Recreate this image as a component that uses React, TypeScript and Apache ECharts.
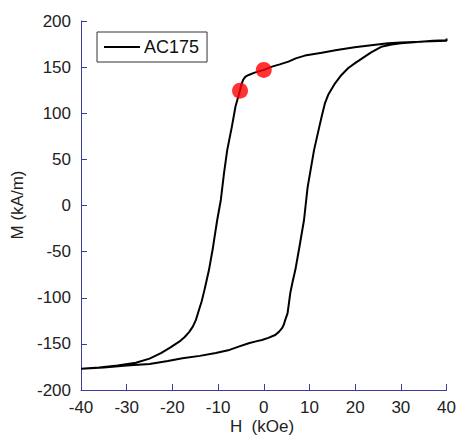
import React, { useEffect, useRef } from "react";
import * as echarts from "echarts";

// Descending-field branch, H from +40 to -40 kOe
const upperH = [40, 37, 34.4, 30, 27.2, 23.5, 19.9, 16, 12.7, 9, 7, 5.4, 3.5, 1.8, 0, -2, -3.3, -4.0, -4.5, -4.9, -5.2, -5.7, -6.2, -7.0, -7.6, -8.0, -8.7, -9.4, -10.2, -10.8, -11.2, -11.6, -12.0, -12.5, -13.0, -13.6, -14.1, -14.85, -15.5, -16.3, -17.3, -18.5, -20.5, -22.5, -25, -28, -32, -36, -40];
const upperM = [179, 178.5, 177.6, 176.6, 175.8, 173.8, 171.5, 168.5, 165.5, 162.5, 159.5, 156, 153, 150.5, 147, 144, 141.5, 139.6, 136.5, 131, 125, 116, 107, 85, 70, 60, 35, 6, -16, -35, -48, -59, -70, -81, -92, -104, -112, -124, -131, -137, -142.5, -147.6, -154, -160, -166, -170.5, -173.5, -175.5, -177];

// Ascending-field branch, H from -40 back to +40 kOe
const lowerH = [-40, -35, -30, -25, -21, -17.8, -14, -10.5, -7.8, -5.5, -3.3, -1.5, -0.4, 1, 2.5, 3.3, 4.0, 4.4, 4.7, 5.2, 5.5, 5.8, 6.3, 6.9, 7.8, 8.8, 9.6, 10.3, 11.0, 12, 12.7, 13.4, 14.1, 15.6, 17.0, 18.5, 19.9, 22.1, 23.5, 25.7, 28, 30, 35, 40, 40];
const lowerM = [-177, -175.5, -173.5, -171.8, -168.5, -165.6, -163, -160, -157, -153, -149.4, -147, -145.8, -143.5, -140.4, -137, -133, -129, -124, -117, -106, -95, -83, -70, -45, -16, 20, 40, 60, 82, 97, 111, 120, 132.5, 141.5, 149, 154, 161.3, 166, 172, 174.5, 176, 177.8, 178.5, 181];

// Highlighted points on the descending branch
const markH = [0, -5.2];
const markM = [147, 124.5];

const xTicks = [-40, -30, -20, -10, 0, 10, 20, 30, 40];
const yTicks = [-200, -150, -100, -50, 0, 50, 100, 150, 200];

const axisColor = "#3c3c9a";
const textColor = "#222";
const font = "Liberation Sans, Arial, sans-serif";

export default function App() {
  const ref = useRef<HTMLDivElement>(null);

  useEffect(() => {
    if (!ref.current) return;
    const chart = echarts.init(ref.current, undefined, { renderer: "svg" });

    const loop: number[][] = [];
    upperH.forEach((h, i) => loop.push([h, upperM[i]]));
    lowerH.forEach((h, i) => loop.push([h, lowerM[i]]));
    const marks = markH.map((h, i) => [h, markM[i]]);

    const axisCommon = {
      axisLine: { show: true, onZero: false, lineStyle: { color: axisColor, width: 1 } },
      axisTick: { show: true, inside: true, length: 6, lineStyle: { color: axisColor } },
      splitLine: { show: false },
      axisLabel: { color: textColor, fontSize: 17, fontFamily: font },
    };

    chart.setOption({
      animation: false,
      backgroundColor: "#fff",
      grid: { left: 81, top: 21, width: 368, height: 369, containLabel: false },
      xAxis: {
        type: "value",
        min: xTicks[0],
        max: xTicks[xTicks.length - 1],
        interval: 10,
        ...axisCommon,
        axisLabel: { ...axisCommon.axisLabel, margin: 9 },
      },
      yAxis: {
        type: "value",
        min: yTicks[0],
        max: yTicks[yTicks.length - 1],
        interval: 50,
        ...axisCommon,
        axisLabel: { ...axisCommon.axisLabel, margin: 10 },
      },
      legend: {
        show: true,
        data: [{ name: "AC175", icon: "rect" }],
        left: 97,
        top: 32,
        orient: "vertical",
        padding: [6, 8, 6, 7],
        itemWidth: 36,
        itemHeight: 2,
        itemGap: 0,
        itemStyle: { color: "#000" },
        borderColor: "#333",
        borderWidth: 1,
        backgroundColor: "#fff",
        textStyle: { color: "#111", fontSize: 18, fontFamily: font, padding: [0, 0, 0, -1] },
      },
      graphic: [
        {
          type: "text",
          x: 262,
          y: 426,
          style: {
            text: "H  (kOe)",
            fill: textColor,
            font: `17px ${font}`,
            align: "center",
            verticalAlign: "middle",
          },
        },
        {
          type: "text",
          x: 17,
          y: 205,
          rotation: Math.PI / 2,
          style: {
            text: "M (kA/m)",
            fill: textColor,
            font: `17px ${font}`,
            align: "center",
            verticalAlign: "middle",
          },
        },
      ],
      series: [
        {
          name: "AC175",
          type: "line",
          data: loop,
          symbol: "none",
          smooth: false,
          lineStyle: { color: "#000", width: 2 },
          itemStyle: { color: "#000" },
        },
        {
          name: "marks",
          type: "scatter",
          data: marks,
          symbol: "circle",
          symbolSize: 16,
          itemStyle: { color: "#ff0000" },
          z: 5,
        },
      ],
    });

    return () => chart.dispose();
  }, []);

  return (
    <div
      ref={ref}
      style={{ position: "fixed", left: 0, top: 0, width: 459, height: 443 }}
    />
  );
}
